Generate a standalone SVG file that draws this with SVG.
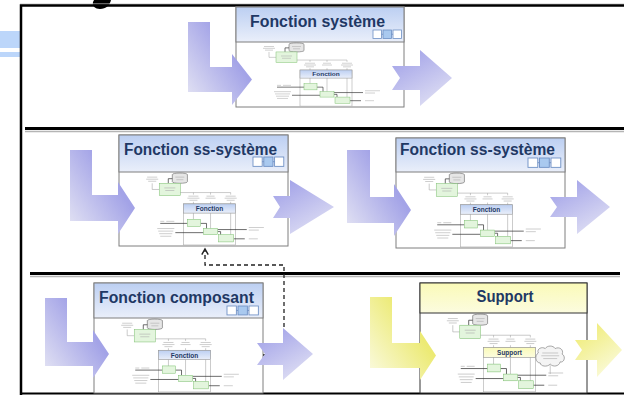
<svg xmlns="http://www.w3.org/2000/svg" xmlns:xlink="http://www.w3.org/1999/xlink" width="624" height="395" viewBox="0 0 624 395">
<style>
.panel{fill:#fff;stroke:#7f7f7f;stroke-width:1}
.hdr{fill:url(#gh);stroke:#7f7f7f;stroke-width:1}
.hdry{fill:url(#ghy);stroke:#333;stroke-width:1}
.title{font-family:"Liberation Sans",Arial,sans-serif;font-weight:bold;font-size:16px;fill:#1f3864}
.ihdr{fill:url(#gh);stroke:#9a9a9a;stroke-width:0.6}
.ihdry{fill:url(#ghy);stroke:#9a9a9a;stroke-width:0.6}
.ilbl{font-family:"Liberation Sans",Arial,sans-serif;font-weight:bold;font-size:6.5px;fill:#1f3864;text-anchor:middle}
.tx{stroke:#b0b0b0;stroke-width:0.6;fill:none}
.ln{stroke:#333;stroke-width:0.7;fill:none}
.ln2{stroke:#999;stroke-width:0.5;fill:none}
.gb{fill:#e3f5dd;stroke:#7dbf70;stroke-width:0.5}
.cyl{fill:#e6e6e6;stroke:#666;stroke-width:0.6}
.fb{fill:#fff;stroke:#aaa;stroke-width:0.6}
.sqw{fill:#fff;stroke:#6d8fc4;stroke-width:0.8}
.sqb{fill:#a9c9ef;stroke:#6d8fc4;stroke-width:0.8}
.div{stroke:#000;stroke-width:3}
.shd{stroke:#b5b5b5;stroke-width:1.5}
.dash{fill:none;stroke:#222;stroke-width:1.3;stroke-dasharray:4 3}
.aL{fill:url(#gL)}
.aR{fill:url(#gR)}
.yL{fill:url(#gLy)}
.yR{fill:url(#gRy)}
</style>
<defs>
<linearGradient id="gh" x1="0" y1="0" x2="0" y2="1"><stop offset="0" stop-color="#bccff2"/><stop offset="1" stop-color="#eaeffa"/></linearGradient>
<linearGradient id="ghy" x1="0" y1="0" x2="0" y2="1"><stop offset="0" stop-color="#fafab8"/><stop offset="1" stop-color="#fcfcdf"/></linearGradient>
<linearGradient id="gL" x1="0" y1="1" x2="0.7" y2="0.4"><stop offset="0" stop-color="#e6e6f4"/><stop offset="1" stop-color="#a3a3e7"/></linearGradient>
<linearGradient id="gR" x1="0" y1="0" x2="0.6" y2="1"><stop offset="0" stop-color="#9c9ce7"/><stop offset="1" stop-color="#dcdcf3"/></linearGradient>
<linearGradient id="gLy" x1="0" y1="1" x2="0.7" y2="0.4"><stop offset="0" stop-color="#fbfbe4"/><stop offset="1" stop-color="#ecea74"/></linearGradient>
<linearGradient id="gRy" x1="0" y1="0" x2="0.6" y2="1"><stop offset="0" stop-color="#eeea6a"/><stop offset="1" stop-color="#fafad8"/></linearGradient>
<marker id="ah" viewBox="0 0 10 10" refX="8" refY="5" markerWidth="8" markerHeight="8" orient="auto" markerUnits="userSpaceOnUse"><path d="M1,1 L8,5 L1,9" fill="none" stroke="#222" stroke-width="1.8"/></marker>
<g id="sq">
<rect class="sqw" x="0" y="0" width="8.5" height="8.5"/>
<rect class="sqb" x="10" y="0" width="8.5" height="8.5"/>
<rect class="sqw" x="20" y="0" width="8.5" height="8.5"/>
<path d="M8.5,4.25H10M18.5,4.25H20" stroke="#6d8fc4" stroke-width="0.8"/>
</g>
<g id="thumb">
<rect class="fb" x="64" y="31" width="52" height="40"/>
<path class="tx" d="M28,5h10M27,7h12M29,9h8"/>
<path class="cyl" d="M53,2.5 a7.5,1.5 0 0 1 15,0 v7 a7.5,1.5 0 0 1 -15,0 z"/>
<path class="tx" d="M56,5h9M57,7.5h7"/>
<path class="ln" d="M53,6.5 H49 V11"/>
<path class="ln2" d="M33,11 V17 H40"/>
<rect class="gb" x="40" y="11" width="21" height="12"/>
<path class="tx" d="M45,15.5h11M46,18h9"/>
<path class="ln2" d="M61,20 H111 M74,20 V22 M91,20 V22 M111,20 V22"/>
<path class="tx" d="M69,23.5h10M68,25.5h12M70,27.5h8M87,23.5h8M86,25.5h10M106,23.5h10M105,25.5h12M107,27.5h8"/>
<path class="ln2" d="M74,29 V46 M91,29 V55 M111,29 V61"/>
<path class="tx" d="M41,48h4M47,48h8"/>
<path class="ln" d="M41,50 H68"/>
<path class="tx" d="M38,55h17M39,57.5h15M40,60h13M41,62.5h11"/>
<path class="ln" d="M56,59 H84"/>
<path class="ln" d="M81,50 H87 V55 M98,58 H101 V61"/>
<path class="ln" d="M98,56 H127 M114,65 H125"/>
<path class="tx" d="M129,54h15M129,56.5h10M129,65h9"/>
<rect class="gb" x="68" y="46" width="13" height="7"/>
<rect class="gb" x="84" y="55" width="14" height="6"/>
<rect class="gb" x="99" y="61" width="15" height="7"/>
</g>
</defs>

<rect x="0" y="0" width="624" height="395" fill="#fff"/>
<rect x="0" y="31" width="20" height="17" fill="#bcd6fa"/>
<rect x="0" y="52" width="20" height="5" fill="#bcd6fa"/>
<path d="M94,0 H111 C110,5 106,9 100,9 C95,9 92,6 93,2 Z" fill="#000"/>
<path d="M20,4 H624" stroke="#c8c8c8" stroke-width="1"/>
<path d="M21,395 V5.5 H624" fill="none" stroke="#000" stroke-width="2.5"/>
<path d="M20,393.5 H624" stroke="#000" stroke-width="2"/>
<g id="dividers">
<path class="shd" d="M25,131.5 H624 M30,276.5 H620"/>
<path class="div" d="M25,128.5 H624 M30,273.5 H620"/>
</g>

<g id="n-systeme">
<rect class="panel" x="236" y="7" width="168" height="100"/>
<rect class="hdr" x="236" y="7" width="168" height="35"/>
<text class="title" x="250" y="27" textLength="135" lengthAdjust="spacingAndGlyphs">Fonction système</text>
<use href="#sq" transform="translate(373,30)"/>
<g transform="translate(236,42) scale(1,0.903)"><use href="#thumb"/><rect class="ihdr" x="64" y="31" width="52" height="9"/><text class="ilbl" x="90" y="38">Fonction</text></g>
</g>

<g id="n-sssys1">
<rect class="panel" x="119" y="135" width="169" height="111"/>
<rect class="hdr" x="119" y="135" width="169" height="37"/>
<text class="title" x="124" y="155" textLength="153" lengthAdjust="spacingAndGlyphs">Fonction ss-système</text>
<use href="#sq" transform="translate(253,157) scale(1.08,1.1)"/>
<g transform="translate(119,172) scale(1.006,1.028)"><use href="#thumb"/><rect class="ihdr" x="64" y="31" width="52" height="9"/><text class="ilbl" x="90" y="38">Fonction</text></g>
</g>

<g id="n-sssys2">
<rect class="panel" x="396" y="138" width="169" height="110"/>
<rect class="hdr" x="396" y="138" width="169" height="34"/>
<text class="title" x="400" y="155" textLength="155" lengthAdjust="spacingAndGlyphs">Fonction ss-système</text>
<use href="#sq" transform="translate(528,158) scale(1.15,1.1)"/>
<g transform="translate(396,172) scale(1.006,1.056)"><use href="#thumb"/><rect class="ihdr" x="64" y="31" width="52" height="9"/><text class="ilbl" x="90" y="38">Fonction</text></g>
</g>

<g id="n-composant">
<rect class="panel" x="94" y="283" width="169" height="110"/>
<rect class="hdr" x="94" y="283" width="169" height="35"/>
<text class="title" x="99" y="303" textLength="155" lengthAdjust="spacingAndGlyphs">Fonction composant</text>
<use href="#sq" transform="translate(227,306) scale(1.1,1.05)"/>
<g transform="translate(94,318) scale(1.006,1.042)"><use href="#thumb"/><rect class="ihdr" x="64" y="31" width="52" height="9"/><text class="ilbl" x="90" y="38">Fonction</text></g>
</g>

<g id="n-support">
<rect class="panel" x="420" y="283" width="167" height="110" style="stroke:#333"/>
<rect class="hdry" x="420" y="283" width="167" height="30"/>
<text class="title" x="505" y="302" text-anchor="middle" textLength="57" lengthAdjust="spacingAndGlyphs">Support</text>
<g transform="translate(420,313) scale(0.994,1.111)"><use href="#thumb"/><rect class="ihdry" x="64" y="31" width="52" height="9"/><text class="ilbl" x="90" y="38">Support</text>
<path d="M119,36 C117,32 123,30 126,32 C128,29 134,29 136,32 C140,30 145,33 143,37 C147,39 145,45 141,44 C140,48 134,49 131,46 C128,49 121,48 121,45 C116,45 115,38 119,36 Z" fill="#f4f4f4" stroke="#777" stroke-width="0.6"/>
<path class="tx" d="M123,36h16M122,38.5h18M124,41h14"/>
<path class="ln2" d="M131,47 V55"/>
</g>
</g>

<g id="connectors">
<path class="dash" d="M263,355 H284 V265 H205 V249" marker-end="url(#ah)"/>
</g>

<g id="arrows">
<path class="aL" d="M188,22 H210 V67 H232 V54 L252,79.5 L232,105 V92 H188 Z"/>
<path class="aR" d="M392,66 H420 V50 L452,78 L420,106 V90 H392 L400,78 Z"/>
<path class="aL" d="M70,150 H92 V195 H118 V182 L135,208 L118,234 V221 H70 Z"/>
<path class="aR" d="M273,196 H290 V180 L334,207 L290,234 V218 H273 L280,207 Z"/>
<path class="aL" d="M347,150 H370 V197 H394 V184 L411,210 L394,236 V223 H347 Z"/>
<path class="aR" d="M550,197 H577 V180 L610,207 L577,234 V217 H550 L557,207 Z"/>
<path class="aL" d="M45,298 H67 V342 H93 V330 L109,354 L93,378 V366 H45 Z"/>
<path class="aR" d="M257,343 H283 V328 L313,354 L283,380 V365 H257 L265,354 Z"/>
<path class="yL" d="M370,297 H392 V343 H420 V331 L436,355.5 L420,380 V368 H370 Z"/>
<path class="yR" d="M575,340 H597 V323 L622,350 L597,377 V360 H575 L582,350 Z"/>
</g>
</svg>
